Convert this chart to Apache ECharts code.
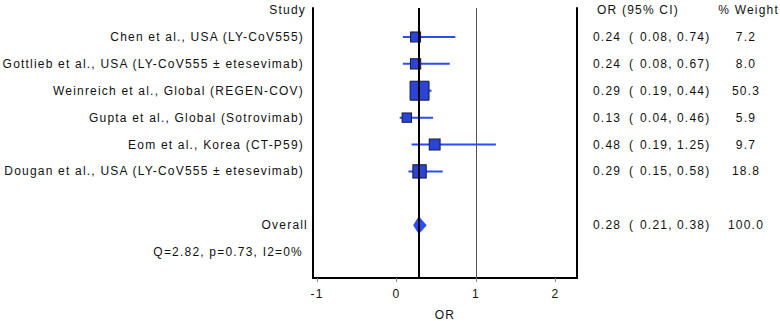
<!DOCTYPE html>
<html>
<head>
    <meta charset="UTF-8" />
    <title>forest plot</title>
    <style>
        html, body { margin: 0; padding: 0; background: #fff; }
        #main { width: 780px; height: 321px; }
        /* the source figure uses wide letter spacing on all text */
        #main text { letter-spacing: 1.2px; }
    </style>
</head>
<body>
    <div id="main"></div>
    <script src="https://cdn.jsdelivr.net/npm/echarts@6/dist/echarts.min.js"></script>
    <script>
        var studies = [
            'Chen et al., USA (LY-CoV555)',
            'Gottlieb et al., USA (LY-CoV555 \u00b1 etesevimab)',
            'Weinreich et al., Global (REGEN-COV)',
            'Gupta et al., Global (Sotrovimab)',
            'Eom et al., Korea (CT-P59)',
            'Dougan et al., USA (LY-CoV555 \u00b1 etesevimab)'
        ];
        var orEst = [0.24, 0.24, 0.29, 0.13, 0.48, 0.29];
        var ciLow = [0.08, 0.08, 0.19, 0.04, 0.19, 0.15];
        var ciHigh = [0.74, 0.67, 0.44, 0.46, 1.25, 0.58];
        var weights = [7.2, 8.0, 50.3, 5.9, 9.7, 18.8];
        var overallEst = 0.28;
        var overallLow = 0.21;
        var overallHigh = 0.38;
        var overallWeight = 100.0;
        var hetText = 'Q=2.82, p=0.73, I2=0%';
        var xTicks = [-1, 0, 1, 2];

        var FONT = '"Liberation Sans", Arial, sans-serif';
        var TXT = '#111';
        var BLUE = '#2a4cf5';

        // rows: 0 header, 1..6 studies, 8 overall, 9 heterogeneity
        var studyRows = studies.map(function (s, i) { return i + 1; });
        var overallRow = 8;
        var hetRow = 9;

        var ciData = studies.map(function (s, i) { return [ciLow[i], studyRows[i], ciHigh[i]]; });
        var boxData = studies.map(function (s, i) {
            return { value: [orEst[i], studyRows[i]], symbolSize: 4.5 + 2.04 * Math.sqrt(weights[i]) };
        });

        // table rows: [x, row, kind, index]
        var tableData = [[0, 0, 'h', -1]];
        studies.forEach(function (s, i) { tableData.push([0, studyRows[i], 's', i]); });
        tableData.push([0, overallRow, 'o', -1]);
        tableData.push([0, hetRow, 'q', -1]);

        function txt(x, y, text, align) {
            return {
                type: 'text',
                x: x, y: y,
                style: {
                    text: text, fill: TXT, font: '12px ' + FONT,
                    align: align || 'left', verticalAlign: 'middle'
                }
            };
        }

        var myChart = echarts.init(document.getElementById('main'), null, { renderer: 'svg' });

        var option = {
            animation: false,
            grid: { left: 313, right: 203, top: 8, bottom: 43, outerBoundsMode: 'none' },
            xAxis: {
                type: 'value',
                min: -1.05,
                max: 2.27,
                name: 'OR',
                nameLocation: 'middle',
                nameGap: 31,
                nameTextStyle: { color: TXT, fontFamily: FONT, fontSize: 12 },
                axisLine: { show: true, onZero: false, lineStyle: { color: '#000', width: 2 } },
                axisTick: { show: true, length: 4, customValues: xTicks, lineStyle: { color: '#888' } },
                axisLabel: { customValues: xTicks, margin: 10, color: TXT, fontFamily: FONT, fontSize: 12 },
                splitLine: { show: false }
            },
            yAxis: [
                {
                    type: 'value', inverse: true, min: -0.074, max: 9.96, position: 'left',
                    axisLine: { show: true, onZero: false, lineStyle: { color: '#000', width: 2 } },
                    axisTick: { show: false }, axisLabel: { show: false }, splitLine: { show: false }
                },
                {
                    type: 'value', inverse: true, min: -0.074, max: 9.96, position: 'right',
                    axisLine: { show: true, onZero: false, lineStyle: { color: '#000', width: 2 } },
                    axisTick: { show: false }, axisLabel: { show: false }, splitLine: { show: false }
                }
            ],
            series: [
                {
                    // confidence interval lines
                    type: 'custom',
                    z: 2,
                    data: ciData,
                    renderItem: function (params, api) {
                        var a = api.coord([api.value(0), api.value(1)]);
                        var b = api.coord([api.value(2), api.value(1)]);
                        return {
                            type: 'line',
                            shape: { x1: a[0], y1: a[1], x2: b[0], y2: b[1] },
                            style: { stroke: BLUE, lineWidth: 2 }
                        };
                    }
                },
                {
                    // study estimates, box size by weight
                    type: 'scatter',
                    z: 3,
                    symbol: 'rect',
                    data: boxData,
                    itemStyle: { color: '#2a44d6', borderColor: '#111540', borderWidth: 1, opacity: 1 }
                },
                {
                    // pooled estimate diamond
                    type: 'custom',
                    z: 3,
                    data: [[overallEst, overallRow, overallLow, overallHigh]],
                    renderItem: function (params, api) {
                        var c = api.coord([api.value(0), api.value(1)]);
                        var l = api.coord([api.value(2), api.value(1)]);
                        var r = api.coord([api.value(3), api.value(1)]);
                        var h = 9;
                        return {
                            type: 'polygon',
                            shape: { points: [[l[0], c[1]], [c[0], c[1] - h], [r[0], c[1]], [c[0], c[1] + h]] },
                            style: { fill: BLUE }
                        };
                    }
                },
                {
                    // reference lines
                    type: 'line',
                    z: 5,
                    data: [],
                    markLine: {
                        silent: true,
                        symbol: 'none',
                        label: { show: false },
                        data: [
                            { xAxis: overallEst, lineStyle: { color: '#000', width: 2, type: 'solid' } },
                            { xAxis: 1, lineStyle: { color: '#555', width: 1, type: 'solid' } }
                        ]
                    }
                },
                {
                    // text table
                    type: 'custom',
                    clip: false,
                    z: 6,
                    data: tableData,
                    renderItem: function (params, api) {
                        var y = api.coord([0, api.value(1)])[1];
                        var kind = tableData[params.dataIndex][2];
                        var i = tableData[params.dataIndex][3];
                        if (kind === 'h') {
                            return {
                                type: 'group', children: [
                                    txt(306, y, 'Study', 'right'),
                                    txt(597, y, 'OR (95% CI)'),
                                    txt(779, y, '% Weight', 'right')
                                ]
                            };
                        }
                        if (kind === 'q') {
                            return txt(303, y, hetText, 'right');
                        }
                        var name, e, lo, hi, w;
                        if (kind === 's') {
                            name = studies[i]; e = orEst[i]; lo = ciLow[i]; hi = ciHigh[i]; w = weights[i];
                        } else {
                            name = 'Overall'; e = overallEst; lo = overallLow; hi = overallHigh; w = overallWeight;
                        }
                        return {
                            type: 'group', children: [
                                txt(kind === 's' ? 304 : 308, y, name, 'right'),
                                txt(593, y, e.toFixed(2)),
                                txt(629, y, '('),
                                txt(640, y, lo.toFixed(2) + ','),
                                txt(677, y, hi.toFixed(2) + ')'),
                                txt(746, y, w.toFixed(1), 'center')
                            ]
                        };
                    }
                }
            ]
        };

        myChart.setOption(option);
    </script>
</body>
</html>
